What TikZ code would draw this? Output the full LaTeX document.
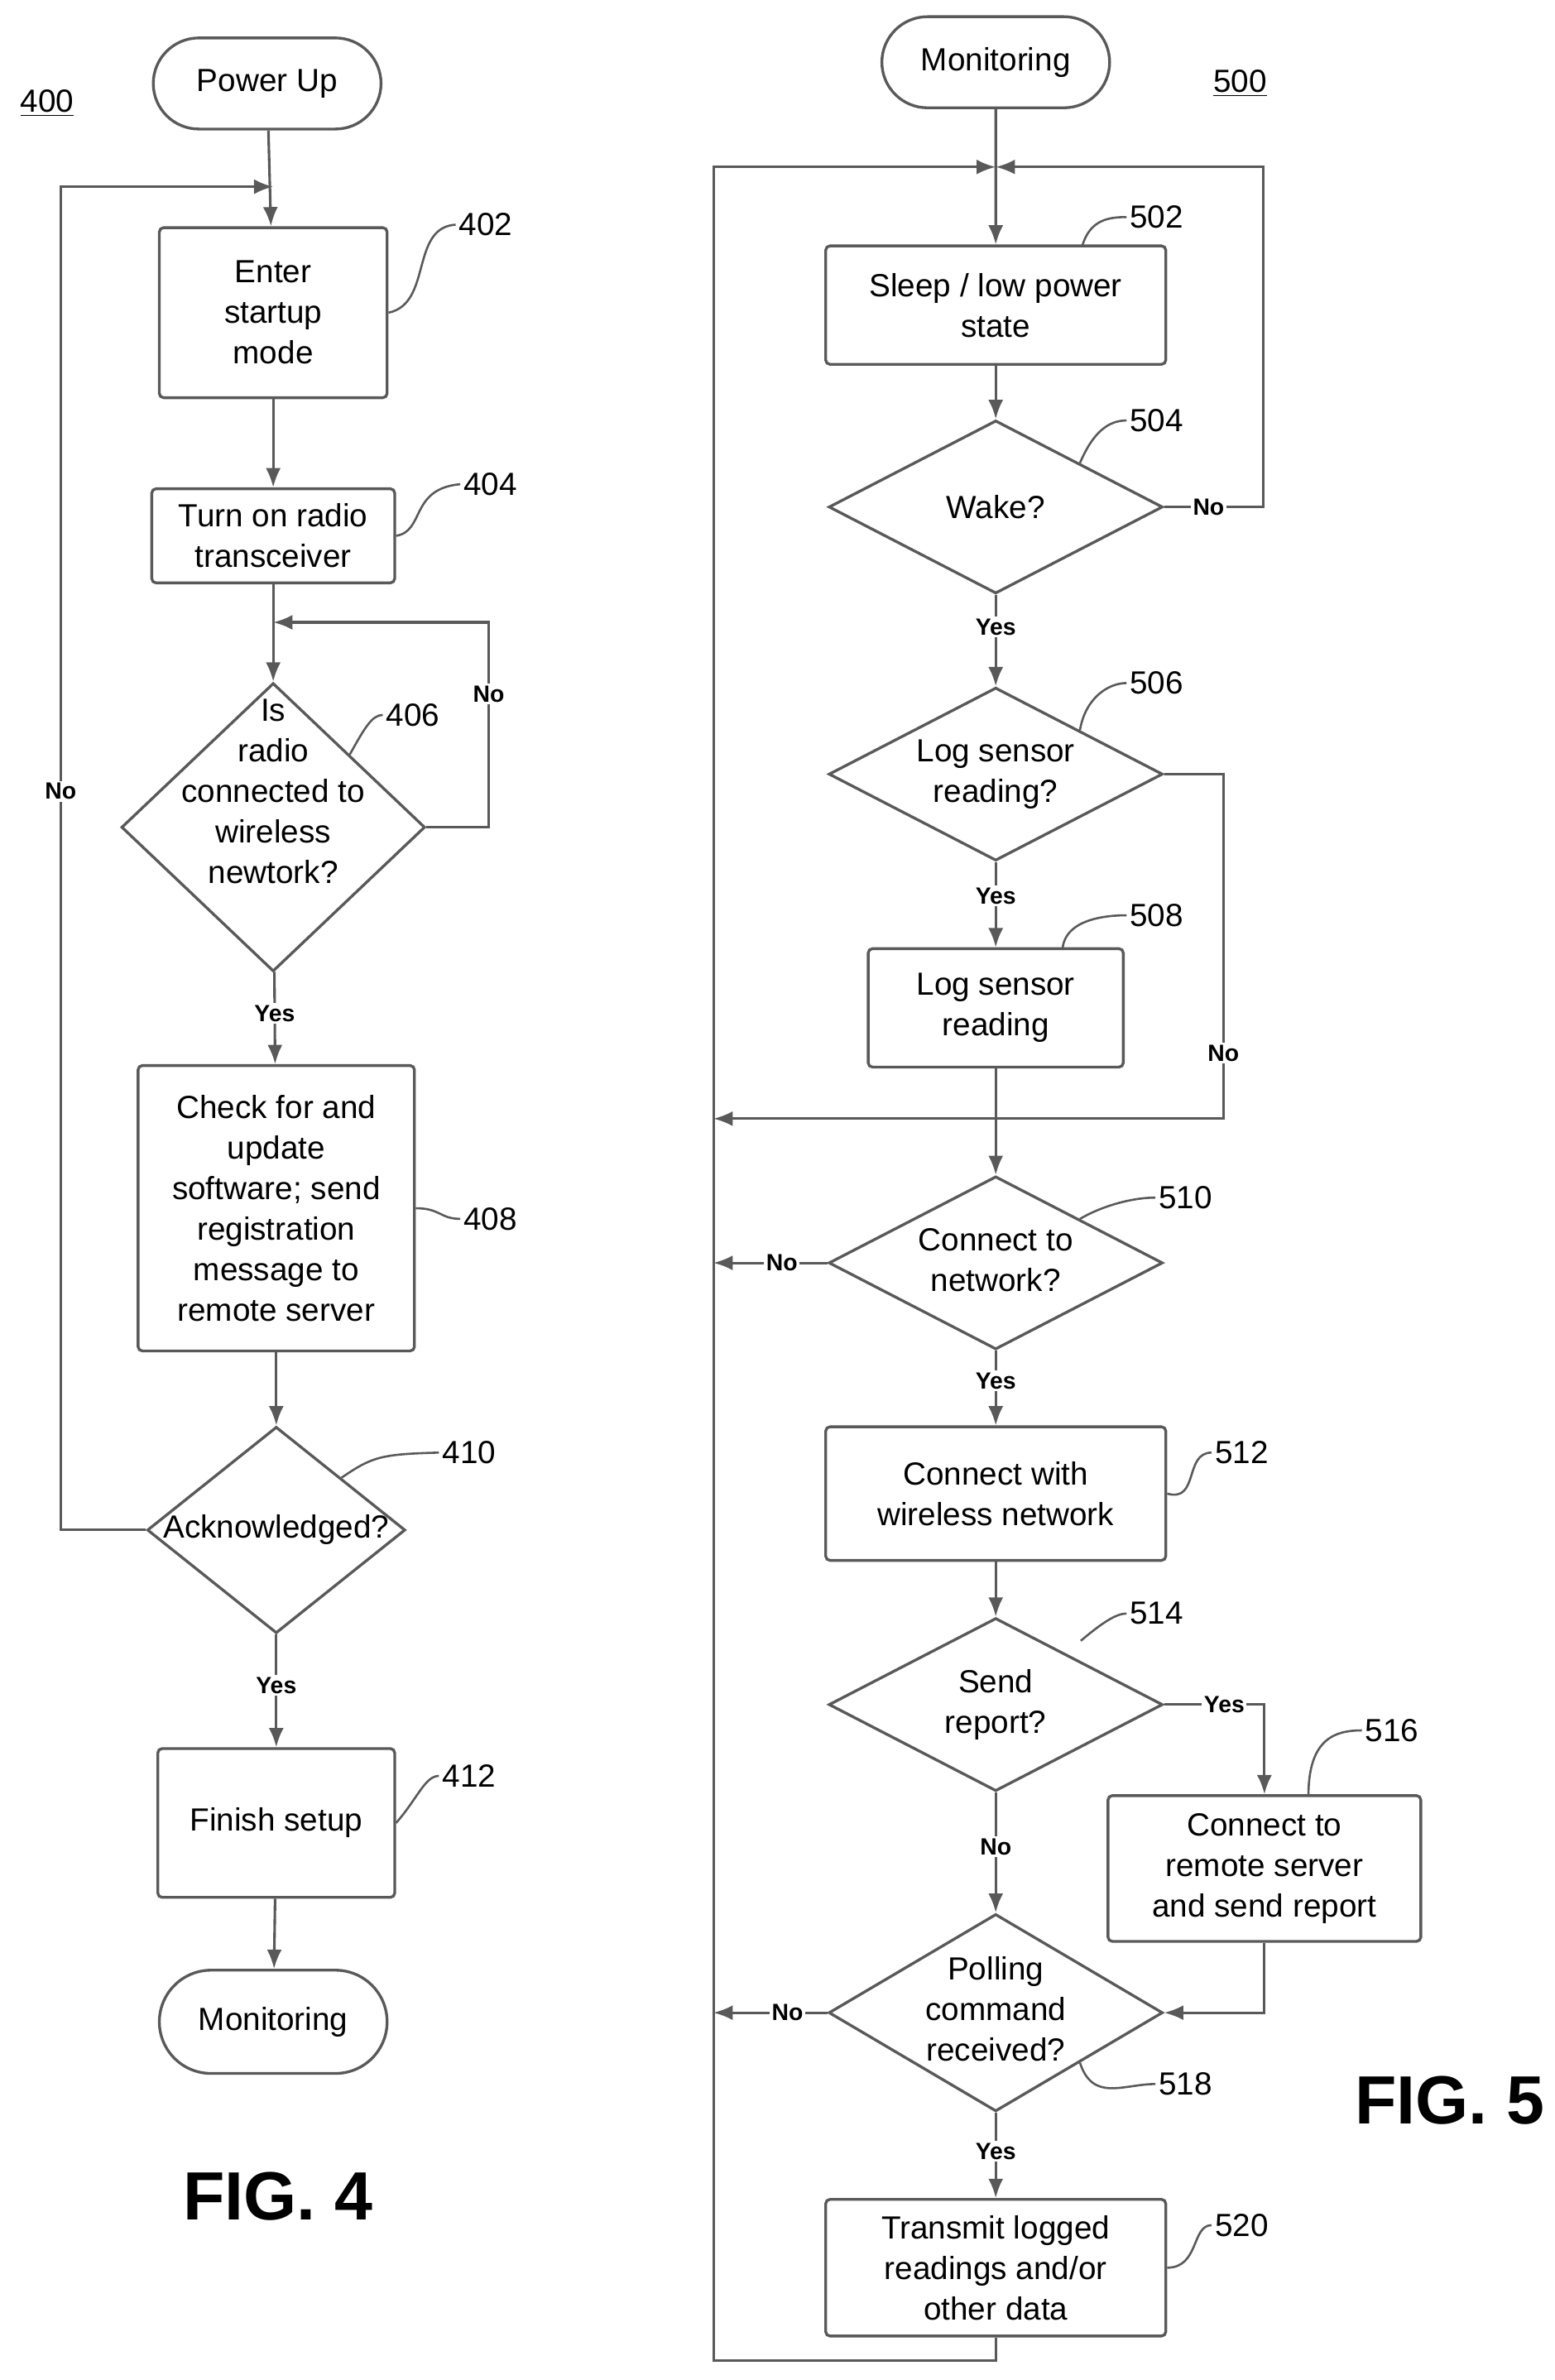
\documentclass[tikz,border=0pt]{standalone}
\usepackage{fontspec}
\setmainfont{Liberation Sans}
\usetikzlibrary{shapes.geometric, shapes.misc, arrows.meta, positioning, calc}

\begin{document}
\begin{tikzpicture}[
    x=0.025cm, y=-0.025cm,
    line width=1.2pt, draw=black!65,
    base/.style={draw=black!65, line width=1.3pt, align=center, font=\fontsize{15}{19}\selectfont, inner sep=0pt},
    box/.style={base, rounded corners=2pt},
    term/.style={base, rounded rectangle},
    dec/.style={base, diamond},
    tag/.style={font=\fontsize{15}{18}\selectfont, inner sep=1pt},
    yn/.style={font=\bfseries\fontsize{11}{13}\selectfont, fill=white, inner sep=1pt},
    arrow/.style={-{Latex[length=9pt,width=7pt]}, draw=black!65, line width=1.2pt},
    lead/.style={draw=black!65, line width=1pt}
]
    \useasboundingbox (0,0) rectangle (1024,1568);

    % FIG. 4
    \node[font=\fontsize{15}{18}\selectfont] (n400) at (31,68) {\underline{400}};
    \node[term, minimum width=3.75cm, minimum height=1.5cm] (pwr) at (176,55) {Power Up};
    \node[box, minimum width=3.75cm, minimum height=2.8cm] (b402) at (180,206) {Enter\\startup\\mode};
    \node[box, minimum width=4cm, minimum height=1.55cm] (b404) at (180,353) {Turn on radio\\transceiver};
    \node[dec, minimum width=5cm, minimum height=4.75cm, label={[yshift=0.55cm]center:{\fontsize{15}{19}\selectfont\begin{tabular}{c}Is\\radio\\connected to\\wireless\\newtork?\end{tabular}}}] (d406) at (180,545) {};
    \node[box, minimum width=4.55cm, minimum height=4.7cm] (b408) at (182,796) {Check for and\\update\\software; send\\registration\\message to\\remote server};
    \node[dec, minimum width=4.25cm, minimum height=3.4cm, label=center:{\fontsize{15}{19}\selectfont Acknowledged?}] (d410) at (182,1008) {};
    \node[box, minimum width=3.9cm, minimum height=2.45cm] (b412) at (182,1201) {Finish setup};
    \node[term, minimum width=3.75cm, minimum height=1.7cm] (mon4) at (180,1332) {Monitoring};
    \node[font=\bfseries\fontsize{32}{36}\selectfont] (fig4) at (183,1447) {FIG. 4};

    \coordinate (j4) at (180,123);
    \coordinate (j406) at (180,410);
    \draw[arrow] (pwr) -- (b402);
    \draw[arrow] (b402) -- (b404);
    \draw[arrow] (b404) -- (d406);
    \draw[arrow] (d406) -- node[yn, pos=0.45] {Yes} (b408);
    \draw[arrow] (b408) -- (d410);
    \draw[arrow] (d410) -- node[yn, pos=0.45] {Yes} (b412);
    \draw[arrow] (b412) -- (mon4);
    \draw[arrow] (d410.west) -| node[yn, pos=0.775] {No} (40,123) -- (j4);
    \draw[arrow] (d406.east) -| node[yn, pos=0.825] {No} (322,410) -- (j406);

    \node[tag] (l402) at (320,148) {402};
    \node[tag] (l404) at (323,319) {404};
    \node[tag] (l406) at (272,471) {406};
    \node[tag] (l408) at (323,803) {408};
    \node[tag] (l410) at (309,957) {410};
    \node[tag] (l412) at (309,1170) {412};
    \draw[lead] (b402.east) .. controls (285,200) and (270,150) .. (l402.west);
    \draw[lead] (b404.east) .. controls (280,350) and (270,322) .. (l404.west);
    \draw[lead] (d406.north east) .. controls (240,480) and (245,471) .. (l406.west);
    \draw[lead] (b408.east) .. controls (290,796) and (290,803) .. (l408.west);
    \draw[lead] (d410.north east) .. controls (245,960) and (250,958) .. (l410.west);
    \draw[lead] (b412.east) .. controls (275,1185) and (280,1170) .. (l412.west);

    % FIG. 5
    \node[font=\fontsize{15}{18}\selectfont] (n500) at (817,55) {\underline{500}};
    \node[term, minimum width=3.75cm, minimum height=1.5cm] (mon5) at (656,41) {Monitoring};
    \node[box, minimum width=5.6cm, minimum height=1.95cm] (b502) at (656,201) {Sleep / low power\\state};
    \node[dec, minimum width=5.5cm, minimum height=2.85cm, label=center:{\fontsize{15}{19}\selectfont Wake?}] (d504) at (656,334) {};
    \node[dec, minimum width=5.5cm, minimum height=2.85cm, label=center:{\fontsize{15}{19}\selectfont\begin{tabular}{c}Log sensor\\reading?\end{tabular}}] (d506) at (656,510) {};
    \node[box, minimum width=4.2cm, minimum height=1.95cm] (b508) at (656,664) {Log sensor\\reading};
    \node[dec, minimum width=5.5cm, minimum height=2.85cm, label=center:{\fontsize{15}{19}\selectfont\begin{tabular}{c}Connect to\\network?\end{tabular}}] (d510) at (656,832) {};
    \node[box, minimum width=5.6cm, minimum height=2.2cm] (b512) at (656,984) {Connect with\\wireless network};
    \node[dec, minimum width=5.5cm, minimum height=2.85cm, label=center:{\fontsize{15}{19}\selectfont\begin{tabular}{c}Send\\report?\end{tabular}}] (d514) at (656,1123) {};
    \node[box, minimum width=5.15cm, minimum height=2.4cm] (b516) at (833,1231) {Connect to\\remote server\\and send report};
    \node[dec, minimum width=5.5cm, minimum height=3.25cm, label=center:{\fontsize{15}{19}\selectfont\begin{tabular}{c}Polling\\command\\received?\end{tabular}}] (d518) at (656,1326) {};
    \node[box, minimum width=5.6cm, minimum height=2.25cm] (b520) at (656,1494) {Transmit logged\\readings and/or\\other data};
    \node[font=\bfseries\fontsize{32}{36}\selectfont] (fig5) at (955,1384) {FIG. 5};

    \coordinate (top5) at (656,110);
    \draw[arrow] (mon5) -- (b502);
    \draw[arrow] (b502) -- (d504);
    \draw[arrow] (d504) -- node[yn, pos=0.35] {Yes} (d506);
    \draw[arrow] (d506) -- node[yn, pos=0.4] {Yes} (b508);
    \draw[arrow] (b508) |- (470,737);
    \draw[arrow] (d506.east) -| node[yn, pos=0.905] {No} (806,737) -| (d510.north);
    \draw[arrow] (d510) -- node[yn, pos=0.4] {Yes} (b512);
    \draw[arrow] (d510.west) -- node[yn, pos=0.4] {No} (470,832);
    \draw[arrow] (b512) -- (d514);
    \draw[arrow] (d514.east) -| node[yn, pos=0.3] {Yes} (b516.north);
    \draw[arrow] (d514) -- node[yn, pos=0.45] {No} (d518);
    \draw[arrow] (b516.south) |- (d518.east);
    \draw[arrow] (d518.west) -- node[yn, pos=0.35] {No} (470,1326);
    \draw[arrow] (d518) -- node[yn, pos=0.45] {Yes} (b520);
    \draw[arrow] (d504.east) -- node[yn, pos=0.45] {No} (832,334) |- (top5);
    \draw[arrow] (b520.south) |- (470,1555) |- (top5);

    \node[tag] (l502) at (762,143) {502};
    \node[tag] (l504) at (762,277) {504};
    \node[tag] (l506) at (762,450) {506};
    \node[tag] (l508) at (762,603) {508};
    \node[tag] (l510) at (781,789) {510};
    \node[tag] (l512) at (818,957) {512};
    \node[tag] (l514) at (762,1063) {514};
    \node[tag] (l516) at (917,1140) {516};
    \node[tag] (l518) at (781,1373) {518};
    \node[tag] (l520) at (818,1466) {520};
    \coordinate (s502) at (713,162);
    \coordinate (s508) at (700,625);
    \coordinate (s514) at (712,1081);
    \coordinate (s516) at (862,1183);
    \draw[lead] (s502) .. controls (718,145) and (730,143) .. (l502.west);
    \draw[lead] (d504.north east) .. controls (720,285) and (730,277) .. (l504.west);
    \draw[lead] (d506.north east) .. controls (715,460) and (730,450) .. (l506.west);
    \draw[lead] (s508) .. controls (702,605) and (730,603) .. (l508.west);
    \draw[lead] (d510.north east) .. controls (725,795) and (745,789) .. (l510.west);
    \draw[lead] (b512.east) .. controls (790,990) and (780,957) .. (l512.west);
    \draw[lead] (s514) .. controls (725,1070) and (735,1063) .. (l514.west);
    \draw[lead] (s516) .. controls (862,1145) and (880,1140) .. (l516.west);
    \draw[lead] (d518.south east) .. controls (720,1385) and (740,1373) .. (l518.west);
    \draw[lead] (b520.east) .. controls (790,1494) and (785,1466) .. (l520.west);
\end{tikzpicture}
\end{document}
